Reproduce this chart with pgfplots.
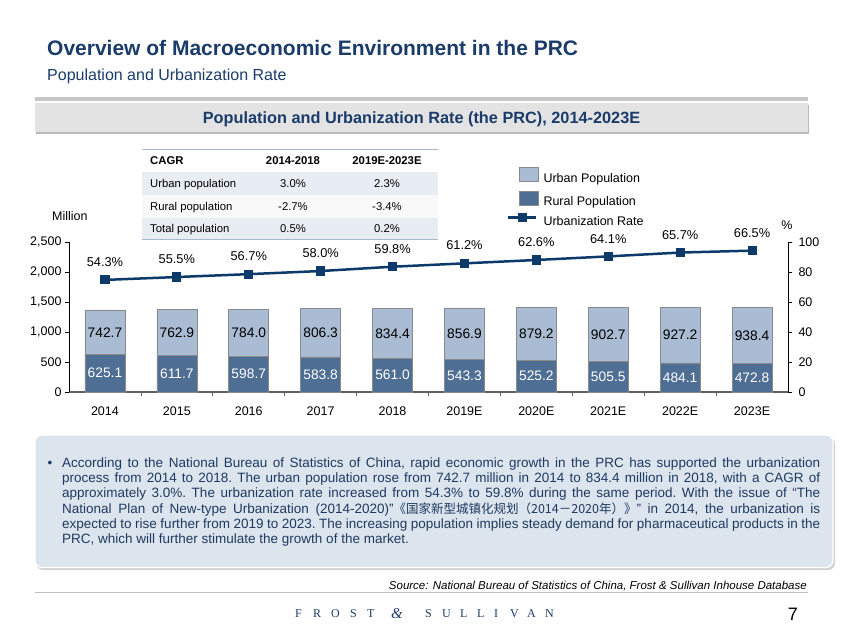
\documentclass[border=0pt]{standalone}
\usepackage{fontspec}
\setmainfont{Liberation Sans}
\newfontfamily\cjk{Noto Sans CJK SC}
\newfontfamily\serifft{Liberation Serif}
\usepackage{pgfplots}
\pgfplotsset{compat=1.18}
\usepackage{pgfplotstable}

\definecolor{navy}{HTML}{1B3C6B}
\definecolor{linec}{HTML}{0E3A6B}
\definecolor{urbanc}{HTML}{A9BCD4}
\definecolor{ruralc}{HTML}{4F6E94}
\definecolor{edgec}{HTML}{8A8A8A}
\definecolor{boxc}{HTML}{DCE4EE}
\definecolor{rowc}{HTML}{E8EDF4}
\definecolor{bodyc}{HTML}{1F3A60}
\definecolor{tabline}{HTML}{A5B9D3}

\newcommand\fs[1]{\fontsize{#1}{#1}\selectfont}

\pgfkeys{/pgf/number format/.cd, assume math mode=true, 1000 sep={,}}

\pgfplotstableread{
x rural urban total zero rate
0 625.1 742.7 1367.8 0 54.3
1 611.7 762.9 1374.6 0 55.5
2 598.7 784.0 1382.7 0 56.7
3 583.8 806.3 1390.1 0 58.0
4 561.0 834.4 1395.4 0 59.8
5 543.3 856.9 1400.2 0 61.2
6 525.2 879.2 1404.4 0 62.6
7 505.5 902.7 1408.2 0 64.1
8 484.1 927.2 1411.3 0 65.7
9 472.8 938.4 1411.2 0 66.5
}\popdata

\begin{document}
\begin{tikzpicture}[x=1pt,y=1pt]
\path[use as bounding box] (0,0) rectangle (843,635);
\fill[white] (0,0) rectangle (843,635);

% titles
\node[anchor=base west, inner sep=0, text=navy, font=\bfseries\fs{21}] at (47,635-55.5) {Overview of Macroeconomic Environment in the PRC};
\node[anchor=base west, inner sep=0, text=navy, font=\fs{16}] at (47,635-80.5) {Population and Urbanization Rate};

% banner
\fill[gray!45] (35,635-101) rectangle (808,635-97.5);
\fill[gray!55] (36,635-134) rectangle (809,635-105);
\fill[gray!22] (35,635-132.5) rectangle (808,635-103);
\node[anchor=base, inner sep=0, text=navy, font=\bfseries\fs{16.3}] at (421.5,635-123.5) {Population and Urbanization Rate (the PRC), 2014-2023E};

% CAGR table
\fill[rowc] (142,635-172) rectangle (438,635-195);
\fill[gray!5] (142,635-195) rectangle (438,635-218);
\fill[rowc] (142,635-218) rectangle (438,635-240);
\draw[tabline, line width=1pt] (142,635-150) -- (438,635-150);
\draw[tabline, line width=1pt] (142,635-240) -- (438,635-240);
\begin{scope}[every node/.style={inner sep=0, font=\fs{11.3}}]
\node[anchor=base west, font=\bfseries\fs{11.3}] at (150,635-165) {CAGR};
\node[anchor=base, font=\bfseries\fs{11.3}] at (293,635-165) {2014-2018};
\node[anchor=base, font=\bfseries\fs{11.3}] at (387,635-165) {2019E-2023E};
\node[anchor=base west] at (150,635-188) {Urban population};
\node[anchor=base] at (293,635-188) {3.0\%};
\node[anchor=base] at (387,635-188) {2.3\%};
\node[anchor=base west] at (150,635-211) {Rural population};
\node[anchor=base] at (293,635-211) {-2.7\%};
\node[anchor=base] at (387,635-211) {-3.4\%};
\node[anchor=base west] at (150,635-233) {Total population};
\node[anchor=base] at (293,635-233) {0.5\%};
\node[anchor=base] at (387,635-233) {0.2\%};
\end{scope}

% axis unit labels
\node[anchor=base west, inner sep=0, font=\fs{12.5}] at (52,635-220.5) {Million};
\node[anchor=base, inner sep=0, font=\fs{12.5}] at (787,635-229.5) {\%};

% bars
\begin{axis}[
  at={(69pt,243pt)}, anchor=south west, scale only axis,
  width=719pt, height=150pt,
  xmin=-0.5, xmax=9.5, ymin=0, ymax=2500,
  ybar stacked, bar width=40pt,
  axis x line*=bottom, axis y line*=left,
  axis line style={-},
  x axis line style={draw=gray!75!black, line width=1.3pt},
  y axis line style={draw=black, line width=0.7pt},
  xtick={0,...,9},
  xticklabels={2014,2015,2016,2017,2018,2019E,2020E,2021E,2022E,2023E},
  minor xtick={0.5,1.5,...,8.5},
  ytick={0,500,...,2500},
  tick align=outside,
  major tick length=4pt, minor tick length=4pt,
  major x tick style={draw=none},
  minor x tick style={draw=gray!75!black, line width=0.8pt},
  ytick style={draw=black, line width=0.6pt},
  tick label style={font=\fs{12.5}},
  xticklabel style={yshift=-7pt},
  clip=false,
]
\addplot[fill=ruralc, draw=edgec, line width=0.6pt, point meta=explicit,
  nodes near coords={\pgfmathprintnumber[fixed,fixed zerofill,precision=1]{\pgfplotspointmeta}},
  every node near coord/.append style={font=\fs{13.8}, text=white, anchor=center}]
  table[x=x, y=rural, meta=rural]{\popdata};
\addplot[fill=urbanc, draw=edgec, line width=0.6pt, point meta=explicit,
  nodes near coords={\pgfmathprintnumber[fixed,fixed zerofill,precision=1]{\pgfplotspointmeta}},
  every node near coord/.append style={font=\fs{13.8}, text=black, anchor=center}]
  table[x=x, y=urban, meta=urban]{\popdata};
\addplot[draw=none, fill=none, point meta=explicit,
  nodes near coords={\pgfmathprintnumber[fixed,fixed zerofill,precision=1]{\pgfplotspointmeta}},
  every node near coord/.append style={font=\fs{12.8}, text=black, anchor=south, inner sep=1.5pt, yshift=1.5pt}]
  table[x=x, y=zero, meta=total]{\popdata};
\end{axis}

% right axis
\begin{axis}[
  at={(69pt,243pt)}, anchor=south west, scale only axis,
  width=719pt, height=150pt,
  xmin=-0.5, xmax=9.5, ymin=0, ymax=100,
  axis y line*=right, axis x line=none,
  axis line style={-},
  y axis line style={draw=black, line width=0.7pt},
  ytick={0,20,...,100},
  tick align=outside, major tick length=4pt,
  ytick style={draw=black, line width=0.6pt},
  tick label style={font=\fs{12.5}},
  yticklabel style={xshift=3pt},
]
\end{axis}

% line + legend
\begin{axis}[
  at={(69pt,243pt)}, anchor=south west, scale only axis,
  width=719pt, height=150pt,
  xmin=-0.5, xmax=9.5, ymin=7.6, ymax=70.1,
  hide axis, clip=false,
  legend cell align=left,
  legend style={at={(0.609,1.5)}, anchor=north west, draw=none, fill=none,
    inner sep=0pt, font=\fs{12.5}, row sep=6pt,
    nodes={inner sep=0pt, text height=9pt, text depth=2.5pt},
    /tikz/every odd column/.append style={column sep=5pt}},
]
\addlegendimage{legend image code/.code={\draw[fill=urbanc, draw=edgec] (11pt,-2.5pt) rectangle (30pt,11.5pt);}}
\addlegendentry{Urban Population}
\addlegendimage{legend image code/.code={\draw[fill=ruralc, draw=edgec] (11pt,-2.5pt) rectangle (30pt,11.5pt);}}
\addlegendentry{Rural Population}
\addplot[linec, line width=2.5pt, mark=square*, mark size=3.3pt,
  legend image code/.code={\draw[linec, line width=2.5pt, mark=square*, mark size=3.3pt, mark repeat=2, mark phase=2] plot coordinates {(0pt,4.5pt) (14pt,4.5pt) (28pt,4.5pt)};},
  nodes near coords={\pgfmathprintnumber[fixed,fixed zerofill,precision=1]{\pgfplotspointmeta}\%},
  every node near coord/.append style={font=\fs{12.8}, text=black, anchor=south, inner sep=0pt, yshift=12pt}]
  table[x=x, y=rate]{\popdata};
\addlegendentry{Urbanization Rate}
\end{axis}

% bottom text box
\fill[gray!35, rounded corners=7pt] (36,635-570) rectangle (835,635-437);
\draw[fill=boxc, draw=white, line width=1.2pt, rounded corners=7pt] (35,635-567.5) rectangle (833,635-435);
\node[anchor=base, inner sep=0, text=bodyc, font=\fs{13.5}] at (50,635-467) {•};
\node[anchor=base west, inner sep=0, text width=758pt, align=justify, text=bodyc,
  font=\fontsize{13.5}{15.4}\selectfont] at (62,635-467) {\frenchspacing\tolerance=10000\hyphenpenalty=10000
According to the National Bureau of Statistics of China, rapid economic growth in the PRC has supported the urbanization\linebreak
process from 2014 to 2018. The urban population rose from 742.7 million in 2014 to 834.4 million in 2018, with a CAGR of\linebreak
approximately 3.0\%. The urbanization rate increased from 54.3\% to 59.8\% during the same period. With the issue of “The\linebreak
National Plan of New-type Urbanization (2014-2020)”{\cjk\fontsize{12.5}{15.4}\selectfont 《国家新型城镇化规划（2014－2020年）》}” in 2014, the urbanization is\linebreak
expected to rise further from 2019 to 2023. The increasing population implies steady demand for pharmaceutical products in the\linebreak
PRC, which will further stimulate the growth of the market.};

% source and footer
\node[anchor=base east, inner sep=0, font=\itshape\fs{11.5}] at (807,635-589) {Source: National Bureau of Statistics of China, Frost \& Sullivan Inhouse Database};
\draw[gray!50, line width=0.8pt] (35,635-592) -- (808,635-592);
\foreach \l/\xx in {F/295,R/313,O/331,S/350,T/367,S/425,U/442,L/460,L/477,I/494,V/510,A/527,N/545}
  \node[anchor=base west, inner sep=0, text=navy, font=\serifft\fs{12}] at (\xx,635-617.5) {\l};
\node[anchor=base west, inner sep=0, text=navy, font=\serifft\itshape\fs{15}] at (391,635-618) {\&};
\node[anchor=base east, inner sep=0, font=\fs{18}] at (798,635-620) {7};
\end{tikzpicture}
\end{document}
